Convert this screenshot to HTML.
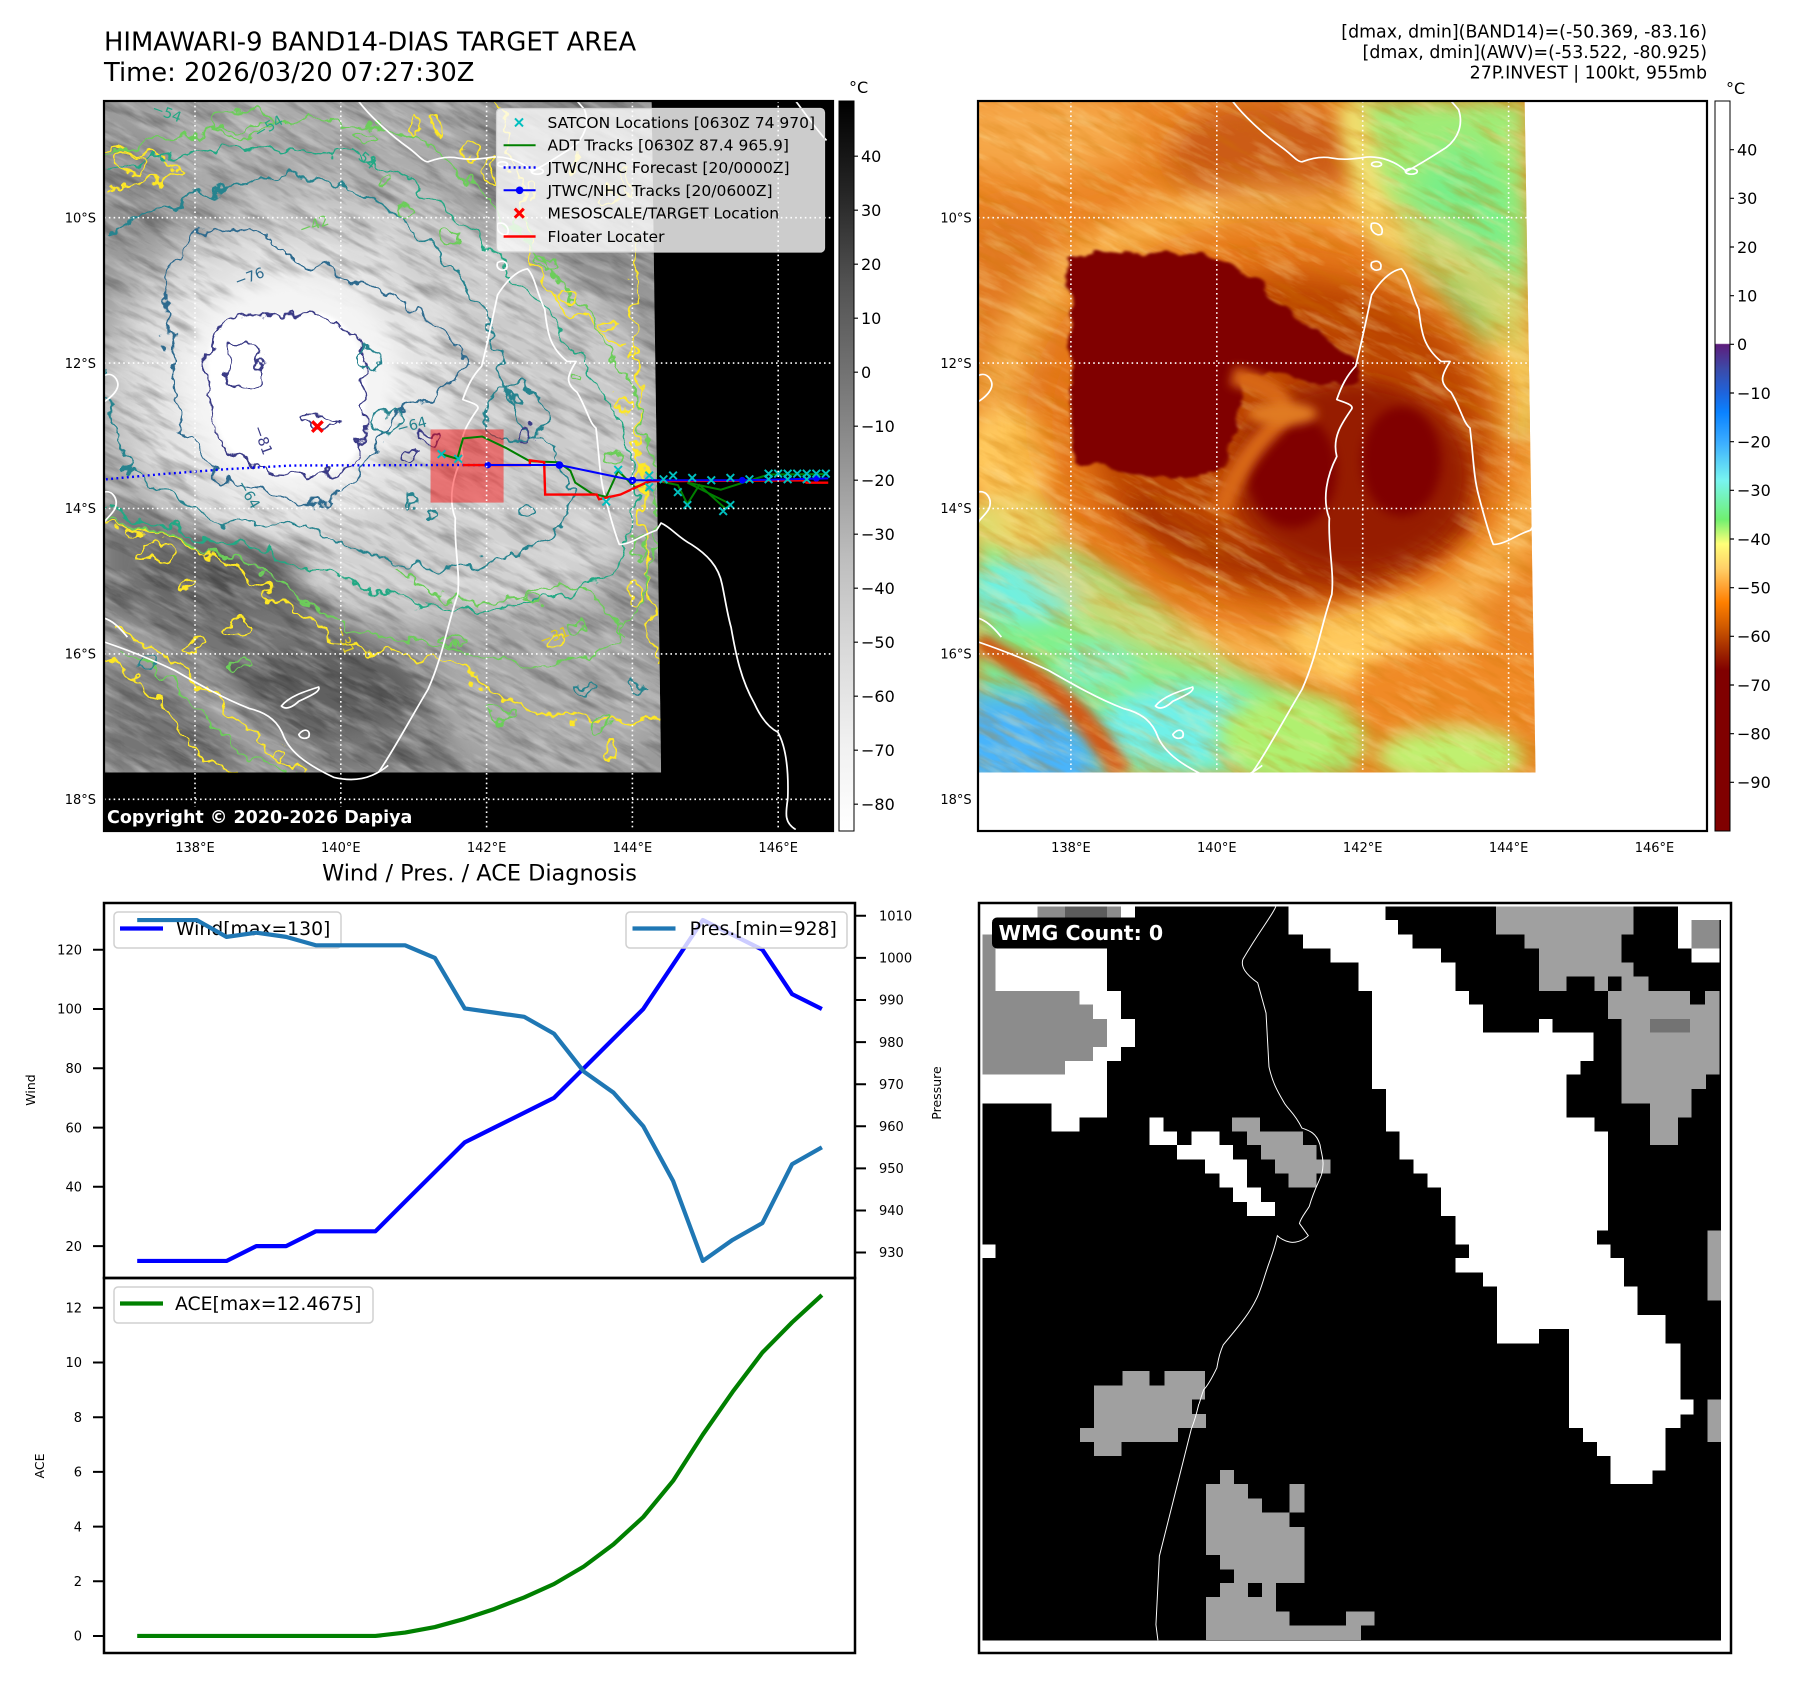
<!DOCTYPE html>
<html><head><meta charset="utf-8">
<style>
html,body{margin:0;padding:0;background:#fff;}
svg{display:block;}
text{font-family:"DejaVu Sans","Liberation Sans",sans-serif;}
</style></head>
<body>
<svg width="1797" height="1690" viewBox="0 0 1797 1690" xmlns="http://www.w3.org/2000/svg">
<defs>
 <linearGradient id="cbGray" x1="0" y1="0" x2="0" y2="1">
  <stop offset="0" stop-color="#000"/><stop offset="0.125" stop-color="#252525"/><stop offset="0.25" stop-color="#525252"/><stop offset="0.375" stop-color="#737373"/><stop offset="0.5" stop-color="#969696"/><stop offset="0.625" stop-color="#bdbdbd"/><stop offset="0.75" stop-color="#d9d9d9"/><stop offset="0.875" stop-color="#f0f0f0"/><stop offset="1" stop-color="#fff"/>
 </linearGradient>
 <linearGradient id="cbCol" x1="0" y1="0" x2="0" y2="1">
  <stop offset="0" stop-color="#fff"/><stop offset="0.332" stop-color="#fff"/><stop offset="0.3335" stop-color="#5e1d7c"/><stop offset="0.3667" stop-color="#3c4aa8"/><stop offset="0.40" stop-color="#1e64dc"/><stop offset="0.4267" stop-color="#0a82ff"/><stop offset="0.4667" stop-color="#3aacff"/><stop offset="0.52" stop-color="#78f5f0"/><stop offset="0.5733" stop-color="#70f070"/><stop offset="0.6067" stop-color="#ffff78"/><stop offset="0.64" stop-color="#ffd068"/><stop offset="0.6667" stop-color="#ffa030"/><stop offset="0.6867" stop-color="#ff8000"/><stop offset="0.72" stop-color="#d05a00"/><stop offset="0.7533" stop-color="#a02800"/><stop offset="0.78" stop-color="#800000"/><stop offset="1" stop-color="#800000"/>
 </linearGradient>
 <filter id="b4" x="-50%" y="-50%" width="200%" height="200%"><feGaussianBlur stdDeviation="4"/></filter>
 <filter id="b10" x="-50%" y="-50%" width="200%" height="200%"><feGaussianBlur stdDeviation="10"/></filter>
 <filter id="b20" x="-50%" y="-50%" width="200%" height="200%"><feGaussianBlur stdDeviation="20"/></filter>
 <filter id="b30" x="-50%" y="-50%" width="200%" height="200%"><feGaussianBlur stdDeviation="30"/></filter>
 <filter id="b40" x="-50%" y="-50%" width="200%" height="200%"><feGaussianBlur stdDeviation="40"/></filter>
 <filter id="wig" x="-5%" y="-5%" width="110%" height="110%"><feTurbulence type="fractalNoise" baseFrequency="0.022" numOctaves="3" seed="5" result="t"/><feDisplacementMap in="SourceGraphic" in2="t" scale="60" xChannelSelector="R" yChannelSelector="G"/></filter>
 <filter id="wigc" x="-20%" y="-20%" width="140%" height="140%"><feTurbulence type="fractalNoise" baseFrequency="0.02" numOctaves="3" seed="9" result="t"/><feDisplacementMap in="SourceGraphic" in2="t" scale="38" xChannelSelector="R" yChannelSelector="G" result="d"/><feGaussianBlur in="d" stdDeviation="3"/></filter>
 <filter id="gtexD" x="0" y="0" width="1" height="1"><feTurbulence type="fractalNoise" baseFrequency="0.01 0.05" numOctaves="4" seed="7"/><feColorMatrix type="matrix" values="0 0 0 0 0  0 0 0 0 0  0 0 0 0 0  2.4 0 0 0 -1.12"/></filter>
 <filter id="gtexL" x="0" y="0" width="1" height="1"><feTurbulence type="fractalNoise" baseFrequency="0.011 0.055" numOctaves="4" seed="11"/><feColorMatrix type="matrix" values="0 0 0 0 1  0 0 0 0 1  0 0 0 0 1  0 2.4 0 0 -1.1"/></filter>
 <filter id="ctexD" x="0" y="0" width="1" height="1"><feTurbulence type="fractalNoise" baseFrequency="0.009 0.045" numOctaves="4" seed="3"/><feColorMatrix type="matrix" values="0 0 0 0 0.6  0 0 0 0 0.18  0 0 0 0 0  3 0 0 0 -1.4"/></filter>
 <filter id="ctexL" x="0" y="0" width="1" height="1"><feTurbulence type="fractalNoise" baseFrequency="0.01 0.05" numOctaves="4" seed="19"/><feColorMatrix type="matrix" values="0 0 0 0 1  0 0 0 0 0.82  0 0 0 0 0.4  0 3 0 0 -1.42"/></filter>
 <clipPath id="gclip"><polygon points="8,12 1155,12 1175,1425 8,1425"/></clipPath>
 <clipPath id="cclip"><polygon points="8,12 1108,12 1130,1425 8,1425"/></clipPath>
 <clipPath id="tlclip"><rect x="104" y="101" width="729" height="730"/></clipPath>
 <clipPath id="trclip"><rect x="978" y="101" width="729" height="730"/></clipPath>
 <clipPath id="c1clip"><rect x="104" y="903" width="751" height="375"/></clipPath>
 <clipPath id="c2clip"><rect x="104" y="1278" width="751" height="375"/></clipPath>
 <g id="coast" fill="none" stroke="#fff" stroke-width="3.5" stroke-linejoin="round">
  <path d="M520,12 C540,40 580,80 620,110 C640,125 650,140 660,140 C680,132 700,128 720,132 C740,136 760,135 790,130 C820,128 850,140 870,160 C890,150 920,130 950,110 C975,90 985,60 975,30 L960,12"/>
  <ellipse cx="810" cy="145" rx="10" ry="5"/><ellipse cx="880" cy="160" rx="12" ry="6"/>
  <path d="M800,270 C815,265 825,280 820,292 C810,298 795,285 800,270 Z"/>
  <path d="M800,352 C812,345 822,352 818,365 C808,372 796,365 800,352 Z"/>
  <path d="M560,1425 C590,1380 620,1320 660,1250 C690,1180 700,1110 720,1050 C725,1000 712,950 715,890 C700,850 710,800 730,760 C720,720 740,690 760,660 C765,650 740,645 730,640 C740,610 750,590 768,570 C780,520 790,470 800,420 C815,395 835,370 860,365 C875,380 880,420 895,450 C900,500 905,530 940,560 L958,560 C940,590 935,605 960,625 C980,660 985,690 998,700 C1005,760 1005,800 1015,840 C1025,880 1035,920 1045,945 C1070,945 1090,925 1120,915 L1129,900 C1150,910 1163,930 1190,945 C1220,965 1245,990 1252,1030 C1258,1060 1262,1090 1270,1120 C1280,1180 1290,1230 1317,1280 C1330,1310 1345,1330 1364,1340 C1380,1370 1386,1420 1384,1480 C1380,1510 1376,1530 1400,1545"/>
  <path d="M8,1150 C50,1165 100,1185 150,1210 C200,1240 250,1270 300,1290 C340,1300 360,1320 370,1350 C385,1385 420,1410 470,1435 C510,1445 545,1440 580,1410"/>
  <path d="M365,1285 C380,1265 410,1255 440,1245 C445,1255 420,1265 400,1275 C390,1285 375,1295 365,1285 Z"/>
  <path d="M400,1345 C410,1330 425,1335 420,1350 C412,1356 402,1352 400,1345 Z"/>
  <path d="M8,590 C25,580 40,600 35,615 C30,630 15,640 8,645"/>
  <path d="M8,835 C25,830 38,850 30,870 C22,885 12,890 8,900"/>
  <path d="M8,1100 C25,1105 40,1120 55,1140"/>
  <path d="M1400,12 C1420,40 1440,70 1462,95"/>
 </g>
</defs>

<!-- Titles -->
<text x="104" y="50.7" font-size="25.8">HIMAWARI-9 BAND14-DIAS TARGET AREA</text>
<text x="104" y="81" font-size="25.8">Time: 2026/03/20 07:27:30Z</text>
<text x="1707" y="37.3" font-size="17.4" text-anchor="end">[dmax, dmin](BAND14)=(-50.369, -83.16)</text>
<text x="1707" y="58" font-size="17.4" text-anchor="end">[dmax, dmin](AWV)=(-53.522, -80.925)</text>
<text x="1707" y="78.7" font-size="17.4" text-anchor="end">27P.INVEST | 100kt, 955mb</text>

<!-- ===== TOP-LEFT GRAY MAP ===== -->
<svg x="104" y="101" width="729" height="730" viewBox="8 12 1527 1536" preserveAspectRatio="none">
 <rect x="0" y="0" width="1600" height="1600" fill="#000"/>
 <g clip-path="url(#gclip)">
  <rect x="0" y="0" width="1600" height="1600" fill="#999999"/>
  <ellipse cx="420" cy="110" rx="420" ry="130" fill="#acacac" filter="url(#b30)"/>
  <ellipse cx="60" cy="170" rx="90" ry="110" fill="#8e8e8e" filter="url(#b30)"/>
  <ellipse cx="1000" cy="170" rx="220" ry="260" fill="#878787" filter="url(#b40)"/>
  <ellipse cx="520" cy="620" rx="520" ry="420" fill="#d0d0d0" filter="url(#b40)"/>
  <ellipse cx="920" cy="720" rx="250" ry="330" fill="#cbcbcb" filter="url(#b40)"/>
  <ellipse cx="720" cy="960" rx="360" ry="150" fill="#d2d2d2" filter="url(#b40)"/>
  <ellipse cx="410" cy="610" rx="330" ry="300" fill="#e4e4e4" filter="url(#b30)"/>
  <path d="M8,870 C150,880 300,950 420,1040 C520,1120 640,1190 720,1300 L740,1425 L8,1425 Z" fill="#747474" filter="url(#b20)"/>
  <ellipse cx="260" cy="1010" rx="170" ry="70" fill="#646464" filter="url(#b20)"/>
  <ellipse cx="480" cy="1250" rx="180" ry="90" fill="#606060" filter="url(#b20)"/>
  <path d="M8,1130 C100,1170 200,1230 280,1310 C330,1360 380,1400 430,1430" stroke="#a2a2a2" stroke-width="80" fill="none" filter="url(#b20)"/>
  <ellipse cx="950" cy="1260" rx="240" ry="170" fill="#ababab" filter="url(#b30)"/>
  <rect x="-600" y="-600" width="2600" height="2600" filter="url(#gtexD)" opacity="0.3" transform="rotate(28 600 700)"/>
  <rect x="-600" y="-600" width="2600" height="2600" filter="url(#gtexL)" opacity="0.3" transform="rotate(28 600 700)"/>
  <ellipse cx="400" cy="610" rx="230" ry="230" fill="#f4f4f4" filter="url(#b20)"/>
  <path d="M238,505 C255,470 300,452 335,468 C370,452 425,468 462,458 C505,468 535,505 548,545 C562,605 556,680 546,732 C528,785 478,802 418,800 C356,806 300,772 268,742 C238,702 224,640 226,580 C226,548 230,522 238,505 Z" fill="#fff" filter="url(#b4)"/>
  <!-- contours -->
  <g fill="none" stroke-width="4.2" filter="url(#wig)">
   <path stroke="#fde725" d="M8,900 C120,910 250,960 360,1050 C440,1120 500,1160 580,1170 C680,1170 760,1210 840,1260 C920,1310 1040,1330 1170,1310"/>
   <path stroke="#fde725" d="M1120,300 C1100,450 1140,600 1130,750 C1140,900 1150,1050 1160,1200"/>
   <path stroke="#fde725" d="M20,1110 C100,1150 180,1210 250,1280 C320,1350 380,1400 440,1425 M8,1180 C80,1220 140,1290 190,1360 C220,1400 260,1420 300,1425"/>
   <path stroke="#fde725" d="M840,12 C850,100 880,200 900,330 C930,420 1000,480 1100,520"/>
   <path stroke="#fde725" d="M8,110 C60,100 120,120 160,160 C120,190 60,180 8,200"/>
   <path stroke="#6ccd5a" d="M8,120 C200,80 400,40 560,60 C700,80 800,200 900,320 C1000,420 1100,560 1140,700 C1170,850 1170,1000 1120,1100 C1050,1200 920,1220 800,1180 C690,1150 600,1150 520,1120 C430,1080 360,1000 240,960 C150,930 70,900 8,890"/>
   <path stroke="#6ccd5a" d="M40,1160 C120,1200 200,1280 260,1350 C300,1390 350,1410 400,1420"/>
   <path stroke="#6ccd5a" d="M620,1000 C700,1060 800,1080 900,1040 C1000,1000 1060,1060 1100,1150"/>
   <path stroke="#22a884" d="M8,170 C150,120 330,90 500,120 C650,150 760,260 860,380 C960,480 1060,600 1110,740 C1150,880 1120,990 1000,1040 C860,1090 720,1090 600,1050 C480,1010 380,960 260,940 C160,925 80,890 8,860"/>
   <path stroke="#25838e" d="M12,300 C120,230 250,190 380,170 C500,160 610,230 690,310 C760,390 820,470 840,560 C850,640 900,700 960,770 C1010,840 980,920 880,960 C780,1000 660,1010 570,970 C500,940 440,890 340,900 C240,905 140,850 70,790 C20,740 12,650 12,560"/>
   <path stroke="#2e6b8e" d="M138,420 C140,300 240,255 335,300 C420,355 540,385 640,440 C700,475 760,520 770,565 C760,610 700,640 640,660 C590,690 575,760 540,810 C500,860 440,870 380,850 C300,840 240,800 200,740 C160,670 138,540 138,420 Z"/>
   <path stroke="#3b3b86" d="M238,505 C255,470 300,452 335,468 C370,452 425,468 462,458 C505,468 535,505 548,545 C562,605 556,680 546,732 C528,785 478,802 418,800 C356,806 300,772 268,742 C238,702 224,640 226,580 C226,548 230,522 238,505 Z"/>
   <g stroke="#3b3b86"><ellipse cx="462" cy="690" rx="35" ry="14"/><ellipse cx="690" cy="718" rx="18" ry="14"/><ellipse cx="648" cy="750" rx="22" ry="16"/><ellipse cx="895" cy="712" rx="14" ry="18"/><ellipse cx="300" cy="570" rx="40" ry="50"/></g>
   <g stroke="#25838e"><ellipse cx="600" cy="690" rx="40" ry="20"/><ellipse cx="650" cy="850" rx="14" ry="10"/><ellipse cx="700" cy="880" rx="10" ry="8"/><ellipse cx="900" cy="880" rx="12" ry="10"/><ellipse cx="1020" cy="1250" rx="16" ry="10"/><ellipse cx="1120" cy="1250" rx="12" ry="10"/><ellipse cx="100" cy="1200" rx="14" ry="20"/><ellipse cx="870" cy="670" rx="60" ry="60"/><ellipse cx="560" cy="560" rx="30" ry="22"/></g>
   <g stroke="#fde725"><ellipse cx="700" cy="60" rx="12" ry="25"/><ellipse cx="660" cy="70" rx="8" ry="20"/><ellipse cx="770" cy="120" rx="10" ry="18"/><ellipse cx="820" cy="160" rx="14" ry="30"/><ellipse cx="900" cy="200" rx="12" ry="20"/><ellipse cx="1000" cy="150" rx="10" ry="14"/><ellipse cx="1060" cy="220" rx="16" ry="24"/><ellipse cx="1110" cy="180" rx="10" ry="30"/><ellipse cx="980" cy="420" rx="18" ry="12"/><ellipse cx="1060" cy="480" rx="14" ry="10"/><ellipse cx="1120" cy="540" rx="10" ry="20"/><ellipse cx="1100" cy="650" rx="12" ry="16"/><ellipse cx="180" cy="1030" rx="20" ry="10"/><ellipse cx="120" cy="960" rx="30" ry="16"/><ellipse cx="60" cy="920" rx="20" ry="10"/><ellipse cx="280" cy="1120" rx="30" ry="14"/><ellipse cx="380" cy="1380" rx="14" ry="10"/><ellipse cx="1070" cy="1380" rx="10" ry="14"/><ellipse cx="960" cy="1150" rx="24" ry="14"/><ellipse cx="1120" cy="1050" rx="14" ry="20"/><ellipse cx="230" cy="970" rx="10" ry="8"/><ellipse cx="200" cy="1160" rx="20" ry="10"/><ellipse cx="60" cy="140" rx="40" ry="25"/></g>
   <g stroke="#6ccd5a"><ellipse cx="560" cy="90" rx="20" ry="12"/><ellipse cx="600" cy="180" rx="14" ry="10"/><ellipse cx="640" cy="240" rx="20" ry="14"/><ellipse cx="720" cy="300" rx="16" ry="12"/><ellipse cx="880" cy="280" rx="14" ry="20"/><ellipse cx="940" cy="360" rx="18" ry="12"/><ellipse cx="1000" cy="600" rx="16" ry="10"/><ellipse cx="1080" cy="760" rx="20" ry="14"/><ellipse cx="900" cy="1060" rx="24" ry="12"/><ellipse cx="1000" cy="1120" rx="18" ry="10"/><ellipse cx="740" cy="1150" rx="20" ry="10"/><ellipse cx="830" cy="1300" rx="24" ry="12"/><ellipse cx="1050" cy="1320" rx="16" ry="12"/><ellipse cx="300" cy="1200" rx="20" ry="10"/><ellipse cx="1130" cy="950" rx="12" ry="18"/><ellipse cx="300" cy="60" rx="60" ry="30"/></g>
  </g>
  <g font-size="30">
   <text x="280" y="395" fill="#2e6b8e" transform="rotate(-20 305 380)">−76</text>
   <text x="320" y="720" fill="#3b3b86" transform="rotate(70 335 710)">−81</text>
   <text x="620" y="705" fill="#25838e" transform="rotate(-15 650 690)">−64</text>
   <text x="285" y="840" fill="#25838e" transform="rotate(60 305 830)">−64</text>
   <text x="110" y="45" fill="#22a884" transform="rotate(20 135 30)">−54</text>
   <text x="320" y="80" fill="#22a884" transform="rotate(-30 345 65)">−54</text>
   <text x="520" y="135" fill="#22a884" transform="rotate(40 545 125)">−54</text>
   <text x="415" y="285" fill="#6ccd5a" transform="rotate(-20 440 270)">−42</text>
   <text x="485" y="1150" fill="#e0cc20" transform="rotate(70 510 1140)">−31</text>
   <text x="920" y="1150" fill="#e0cc20" transform="rotate(-20 945 1140)">−31</text>
  </g>
 </g>
 <use href="#coast" transform="translate(8,0) scale(1.0409,1) translate(-8,0)"/>
 <rect x="692" y="703" width="153" height="154" fill="#ff0000" opacity="0.45"/>
 <path d="M12,808 L130,797 L260,787 L400,779 L700,778 L812,778" fill="none" stroke="#0000ff" stroke-width="5" stroke-dasharray="4,7"/>
 <path d="M715,755 L748,765 L760,722 L800,718 L850,742 L900,770 L960,772 L985,790 L995,815 L1030,838 L1060,845 L1085,790 L1120,825 L1160,810 L1210,820 L1230,860 L1255,820 L1310,870 L1320,860 L1260,830 L1230,815 L1300,830 L1400,798 L1525,797" fill="none" stroke="#008000" stroke-width="4.2"/>
 <path d="M760,778 L900,778 L900,768 L930,772 L932,840 L1040,840 L1045,850 L1090,840 L1150,812 L1470,810 L1480,815 L1525,815" fill="none" stroke="#ff0000" stroke-width="5"/>
 <path d="M812,778 L962,778 L1115,810 L1345,810 L1525,806" fill="none" stroke="#0000ff" stroke-width="4.2"/>
 <g fill="#0000ff"><circle cx="812" cy="778" r="7"/><circle cx="962" cy="778" r="8"/><circle cx="1115" cy="810" r="8"/><circle cx="1345" cy="810" r="7"/><circle cx="1500" cy="806" r="7"/></g>
 <g stroke="#00bfbf" stroke-width="4" fill="none">
  <path d="M707,747 l16,16 m0,-16 l-16,16 M742,757 l16,16 m0,-16 l-16,16 M1052,847 l16,16 m0,-16 l-16,16 M1077,780 l16,16 m0,-16 l-16,16 M1142,792 l16,16 m0,-16 l-16,16 M1142,817 l16,16 m0,-16 l-16,16 M1202,827 l16,16 m0,-16 l-16,16 M1222,854 l16,16 m0,-16 l-16,16 M1297,867 l16,16 m0,-16 l-16,16 M1312,854 l16,16 m0,-16 l-16,16"/>
  <path d="M1172,800 l16,16 m0,-16 l-16,16 M1192,792 l16,16 m0,-16 l-16,16 M1232,797 l16,16 m0,-16 l-16,16 M1272,802 l16,16 m0,-16 l-16,16 M1312,797 l16,16 m0,-16 l-16,16 M1352,800 l16,16 m0,-16 l-16,16 M1392,788 l16,16 m0,-16 l-16,16 M1412,788 l16,16 m0,-16 l-16,16 M1432,788 l16,16 m0,-16 l-16,16 M1452,788 l16,16 m0,-16 l-16,16 M1472,788 l16,16 m0,-16 l-16,16 M1492,788 l16,16 m0,-16 l-16,16 M1512,788 l16,16 m0,-16 l-16,16 M1392,800 l16,16 m0,-16 l-16,16 M1432,800 l16,16 m0,-16 l-16,16 M1472,800 l16,16 m0,-16 l-16,16"/>
 </g>
 <path d="M444,686 l22,22 m0,-22 l-22,22" stroke="#ff0000" stroke-width="7" fill="none"/>
</svg>

<g clip-path="url(#tlclip)" stroke="#fff" stroke-width="1.6" stroke-dasharray="1.6,3.2" fill="none">
 <path d="M195,101V831 M340.8,101V831 M486.6,101V831 M632.4,101V831 M778.2,101V831 M104,217.7H833 M104,363.1H833 M104,508.5H833 M104,653.9H833 M104,799.3H833"/>
</g>
<rect x="104" y="807" width="310" height="24" rx="3" fill="#000"/>
<text x="107" y="823" font-size="17.5" font-weight="bold" fill="#fff">Copyright © 2020-2026 Dapiya</text>

<rect x="496.5" y="108.5" width="328" height="143.5" rx="4" fill="#fff" fill-opacity="0.8" stroke="#d0d0d0" stroke-width="1.2"/>
<path d="M515,118.4 l8,8 m0,-8 l-8,8" stroke="#00bfbf" stroke-width="2" fill="none"/>
<line x1="503.6" y1="145.2" x2="535.6" y2="145.2" stroke="#008000" stroke-width="2"/>
<line x1="503.6" y1="167.5" x2="535.6" y2="167.5" stroke="#0000ff" stroke-width="2.4" stroke-dasharray="2,3"/>
<line x1="503.6" y1="190.3" x2="535.6" y2="190.3" stroke="#0000ff" stroke-width="2"/>
<circle cx="519.6" cy="190.3" r="3.8" fill="#0000ff"/>
<path d="M514.8,208.7 l9,9 m0,-9 l-9,9" stroke="#ff0000" stroke-width="3" fill="none"/>
<line x1="503.6" y1="236.5" x2="535.6" y2="236.5" stroke="#ff0000" stroke-width="2.4"/>
<g font-size="15.5" fill="#000">
 <text x="547.5" y="127.9">SATCON Locations [0630Z 74 970]</text>
 <text x="547.5" y="150.7">ADT Tracks [0630Z 87.4 965.9]</text>
 <text x="547.5" y="173">JTWC/NHC Forecast [20/0000Z]</text>
 <text x="547.5" y="195.8">JTWC/NHC Tracks [20/0600Z]</text>
 <text x="547.5" y="218.7">MESOSCALE/TARGET Location</text>
 <text x="547.5" y="242">Floater Locater</text>
</g>
<rect x="104" y="101" width="729" height="730" fill="none" stroke="#000" stroke-width="2.2"/>

<rect x="839" y="101" width="15" height="730" fill="url(#cbGray)" stroke="#000" stroke-width="1"/>
<text x="849" y="93" font-size="16">°C</text>
<g stroke="#000" stroke-width="1.2">
 <path d="M854,156.2h4 M854,210.2h4 M854,264.2h4 M854,318.2h4 M854,372.2h4 M854,426.2h4 M854,480.2h4 M854,534.2h4 M854,588.2h4 M854,642.2h4 M854,696.2h4 M854,750.2h4 M854,804.2h4"/>
</g>
<g font-size="16" fill="#000">
 <text x="861" y="162">40</text><text x="861" y="216">30</text><text x="861" y="270">20</text><text x="861" y="324">10</text><text x="861" y="378">0</text><text x="861" y="432">−10</text><text x="861" y="486">−20</text><text x="861" y="540">−30</text><text x="861" y="594">−40</text><text x="861" y="648">−50</text><text x="861" y="702">−60</text><text x="861" y="756">−70</text><text x="861" y="810">−80</text>
</g>

<g font-size="13" fill="#000">
 <g text-anchor="end"><text x="96" y="222.4">10°S</text><text x="96" y="367.8">12°S</text><text x="96" y="513.2">14°S</text><text x="96" y="658.6">16°S</text><text x="96" y="804">18°S</text></g>
 <g text-anchor="middle"><text x="195" y="852">138°E</text><text x="340.8" y="852">140°E</text><text x="486.6" y="852">142°E</text><text x="632.4" y="852">144°E</text><text x="778.2" y="852">146°E</text></g>
</g>

<!-- ===== TOP-RIGHT COLOR MAP ===== -->
<rect x="978" y="101" width="729" height="730" fill="#fff"/>
<svg x="978" y="101" width="729" height="730" viewBox="8 12 1467 1536" preserveAspectRatio="none">
 <g clip-path="url(#cclip)">
  <rect x="0" y="0" width="1600" height="1600" fill="#ec8626"/>
  <ellipse cx="120" cy="80" rx="220" ry="90" fill="#f6a848" filter="url(#b30)"/>
  <ellipse cx="580" cy="130" rx="190" ry="120" fill="#cc5c12" filter="url(#b30)"/>
  <path d="M760,12 L1108,12 L1112,720 C1060,690 1000,640 960,560 C920,480 880,420 820,330 C790,250 770,120 760,12 Z" fill="#a0ec76" filter="url(#b20)"/>
  <ellipse cx="980" cy="300" rx="110" ry="200" fill="#78ee88" filter="url(#b30)"/>
  <path d="M760,12 C780,150 800,280 900,430 C940,500 980,580 1060,700" stroke="#f4e070" stroke-width="60" fill="none" filter="url(#b20)"/>
  <ellipse cx="1060" cy="620" rx="70" ry="110" fill="#f8d060" filter="url(#b20)"/>
  <ellipse cx="70" cy="480" rx="130" ry="250" fill="#e27a22" filter="url(#b30)"/>
  <path d="M8,930 C120,900 250,960 360,1060 C460,1150 560,1230 700,1290 L760,1425 L8,1425 Z" fill="#82f08c" filter="url(#b20)"/>
  <ellipse cx="110" cy="1040" rx="120" ry="70" fill="#6ff0e0" filter="url(#b20)"/>
  <ellipse cx="420" cy="1330" rx="170" ry="90" fill="#70f0e8" filter="url(#b20)"/>
  <ellipse cx="250" cy="1200" rx="80" ry="50" fill="#80f0c0" filter="url(#b20)"/>
  <ellipse cx="60" cy="1400" rx="200" ry="150" fill="#48b4fa" filter="url(#b30)"/>
  <path d="M8,1150 C80,1190 150,1240 210,1300 C250,1350 280,1400 300,1425" stroke="#d25a18" stroke-width="45" fill="none" filter="url(#b10)"/>
  <ellipse cx="640" cy="1350" rx="150" ry="90" fill="#b0f070" filter="url(#b20)"/>
  <ellipse cx="830" cy="1150" rx="200" ry="100" fill="#ffd060" filter="url(#b20)"/>
  <ellipse cx="960" cy="1250" rx="200" ry="110" fill="#f08a28" filter="url(#b20)"/>
  <ellipse cx="960" cy="1390" rx="150" ry="60" fill="#c0f070" filter="url(#b20)"/>
  <ellipse cx="80" cy="760" rx="100" ry="100" fill="#ffc858" filter="url(#b20)"/>
  <ellipse cx="80" cy="900" rx="100" ry="60" fill="#d8e070" filter="url(#b20)"/>
  <ellipse cx="600" cy="700" rx="560" ry="470" fill="none" stroke="#ffc860" stroke-width="80" opacity="0.7" filter="url(#b30)"/>
  <ellipse cx="600" cy="690" rx="470" ry="400" fill="#e47418" filter="url(#b40)"/>
  <ellipse cx="640" cy="720" rx="400" ry="340" fill="#bc4404" filter="url(#b30)"/>
  <path d="M330,850 C420,950 560,1000 700,1010 C820,1010 930,960 990,870" stroke="#a83000" stroke-width="60" fill="none" filter="url(#b20)"/>
  <rect x="-600" y="-600" width="2600" height="2600" filter="url(#ctexD)" opacity="0.3" transform="rotate(28 600 700)"/>
  <rect x="-600" y="-600" width="2600" height="2600" filter="url(#ctexL)" opacity="0.3" transform="rotate(28 600 700)"/>
  <ellipse cx="760" cy="800" rx="240" ry="200" fill="#961e00" filter="url(#b20)"/>
  <path d="M195,335 C260,328 330,338 380,330 C430,332 470,334 485,340 C530,365 560,390 580,407 C620,440 650,465 672,481 C710,510 745,535 765,555 C775,575 770,600 750,610 C700,612 620,585 560,578 C530,582 522,605 540,640 C545,680 525,730 500,770 C470,805 420,812 370,805 C310,795 250,780 200,775 C192,640 192,480 195,335 Z" fill="#800000" filter="url(#wigc)"/>
  <ellipse cx="640" cy="790" rx="90" ry="120" fill="#800000" filter="url(#b10)"/>
  <ellipse cx="860" cy="770" rx="80" ry="115" fill="#800000" filter="url(#b10)"/>
  <path d="M520,590 C600,610 650,650 600,700 C560,740 520,800 495,880" stroke="#d86818" stroke-width="40" fill="none" filter="url(#b10)"/>
  <ellipse cx="620" cy="670" rx="70" ry="25" fill="#e07a20" filter="url(#b10)"/>
 </g>
 <use href="#coast"/>
</svg>
<g clip-path="url(#trclip)" stroke="#fff" stroke-width="1.6" stroke-dasharray="1.6,3.2" fill="none">
 <path d="M1070.9,101V831 M1216.8,101V831 M1362.7,101V831 M1508.6,101V831 M1654.5,101V831 M978,217.7H1707 M978,363.1H1707 M978,508.5H1707 M978,653.9H1707 M978,799.3H1707"/>
</g>
<rect x="978" y="101" width="729" height="730" fill="none" stroke="#000" stroke-width="2.2"/>
<g font-size="13" fill="#000">
 <g text-anchor="end"><text x="971.7" y="222.4">10°S</text><text x="971.7" y="367.8">12°S</text><text x="971.7" y="513.2">14°S</text><text x="971.7" y="658.6">16°S</text><text x="971.7" y="804">18°S</text></g>
 <g text-anchor="middle"><text x="1070.9" y="852">138°E</text><text x="1216.8" y="852">140°E</text><text x="1362.7" y="852">142°E</text><text x="1508.6" y="852">144°E</text><text x="1654.5" y="852">146°E</text></g>
</g>
<rect x="1715" y="101" width="15" height="730" fill="url(#cbCol)" stroke="#000" stroke-width="1"/>
<text x="1726" y="94" font-size="16">°C</text>
<g stroke="#000" stroke-width="1.2">
 <path d="M1730,149.7h4 M1730,198.3h4 M1730,247h4 M1730,295.7h4 M1730,344.3h4 M1730,393h4 M1730,441.7h4 M1730,490.3h4 M1730,539h4 M1730,587.7h4 M1730,636.3h4 M1730,685h4 M1730,733.7h4 M1730,782.3h4"/>
</g>
<g font-size="16" fill="#000">
 <text x="1737" y="155.5">40</text><text x="1737" y="204.1">30</text><text x="1737" y="252.8">20</text><text x="1737" y="301.5">10</text><text x="1737" y="350.1">0</text><text x="1737" y="398.8">−10</text><text x="1737" y="447.5">−20</text><text x="1737" y="496.1">−30</text><text x="1737" y="544.8">−40</text><text x="1737" y="593.5">−50</text><text x="1737" y="642.1">−60</text><text x="1737" y="690.8">−70</text><text x="1737" y="739.5">−80</text><text x="1737" y="788.1">−90</text>
</g>

<!-- ===== BOTTOM-LEFT CHART ===== -->
<text x="479.5" y="880.7" font-size="22.4" text-anchor="middle">Wind / Pres. / ACE Diagnosis</text>
<g clip-path="url(#c1clip)" fill="none" stroke-linejoin="round">
 <polyline stroke="#0000ff" stroke-width="4.2" points="137.2,1260.95 167,1260.95 196.7,1260.95 226.5,1260.95 256.3,1246.13 286.1,1246.13 315.8,1231.31 345.6,1231.31 375.4,1231.31 405.1,1201.67 434.9,1172.02 464.7,1142.38 494.4,1127.56 524.2,1112.73 554,1097.91 583.8,1068.27 613.5,1038.63 643.3,1008.98 673.1,964.51 702.8,920.05 732.6,934.87 762.4,949.69 792.1,994.16 821.9,1008.98"/>
</g>
<rect x="114" y="912" width="227" height="36" rx="4" fill="#fff" fill-opacity="0.8" stroke="#d0d0d0" stroke-width="1.5"/>
<line x1="120" y1="928.5" x2="163" y2="928.5" stroke="#0000ff" stroke-width="4.2"/>
<text x="176" y="935" font-size="18.8">Wind[max=130]</text>
<g clip-path="url(#c1clip)" fill="none" stroke-linejoin="round">
 <polyline stroke="#1f77b4" stroke-width="4.2" points="137.2,920.04 167,920.04 196.7,920.04 226.5,936.87 256.3,932.67 286.1,936.87 315.8,945.29 345.6,945.29 375.4,945.29 405.1,945.29 434.9,957.92 464.7,1008.42 494.4,1012.63 524.2,1016.84 554,1033.67 583.8,1071.55 613.5,1092.6 643.3,1126.27 673.1,1180.98 702.8,1260.95 732.6,1239.9 762.4,1223.07 792.1,1164.15 821.9,1147.32"/>
</g>
<rect x="626" y="912" width="221" height="36" rx="4" fill="#fff" fill-opacity="0.8" stroke="#d0d0d0" stroke-width="1.5"/>
<line x1="632.5" y1="928.5" x2="675.5" y2="928.5" stroke="#1f77b4" stroke-width="4.2"/>
<text x="689.6" y="935" font-size="18.8">Pres.[min=928]</text>

<g clip-path="url(#c2clip)" fill="none" stroke-linejoin="round">
 <polyline stroke="#008000" stroke-width="4.2" points="137.2,1635.95 167,1635.95 196.7,1635.95 226.5,1635.95 256.3,1635.95 286.1,1635.95 315.8,1635.95 345.6,1635.95 375.4,1635.95 405.1,1632.6 434.9,1627.07 464.7,1618.79 494.4,1608.95 524.2,1597.4 554,1584 583.8,1566.5 613.5,1544.35 643.3,1517 673.1,1480.84 702.8,1434.63 732.6,1391.91 762.4,1352.53 792.1,1322.38 821.9,1295.04"/>
</g>
<rect x="114" y="1287" width="259" height="36" rx="4" fill="#fff" fill-opacity="0.8" stroke="#d0d0d0" stroke-width="1.5"/>
<line x1="120" y1="1303.5" x2="163" y2="1303.5" stroke="#008000" stroke-width="4.2"/>
<text x="175" y="1310" font-size="18.8">ACE[max=12.4675]</text>

<rect x="104" y="903" width="751" height="375" fill="none" stroke="#000" stroke-width="2.5"/>
<rect x="104" y="1278" width="751" height="375" fill="none" stroke="#000" stroke-width="2.5"/>
<g stroke="#000" stroke-width="2">
 <path d="M93,1246.1H104 M93,1186.8H104 M93,1127.6H104 M93,1068.3H104 M93,1009H104 M93,949.7H104"/>
 <path d="M855,1252.5H866 M855,1210.5H866 M855,1168.4H866 M855,1126.3H866 M855,1084.2H866 M855,1042.1H866 M855,1000H866 M855,957.9H866 M855,915.8H866"/>
 <path d="M93,1636H104 M93,1581.3H104 M93,1526.6H104 M93,1471.9H104 M93,1417.2H104 M93,1362.5H104 M93,1307.8H104"/>
</g>
<g font-size="13" fill="#000">
 <g text-anchor="end">
  <text x="82" y="1250.8">20</text><text x="82" y="1191.5">40</text><text x="82" y="1132.3">60</text><text x="82" y="1073">80</text><text x="82" y="1013.7">100</text><text x="82" y="954.4">120</text>
  <text x="82" y="1640.7">0</text><text x="82" y="1586">2</text><text x="82" y="1531.3">4</text><text x="82" y="1476.6">6</text><text x="82" y="1421.9">8</text><text x="82" y="1367.2">10</text><text x="82" y="1312.5">12</text>
 </g>
 <text x="879" y="1257.2">930</text><text x="879" y="1215.2">940</text><text x="879" y="1173.1">950</text><text x="879" y="1131">960</text><text x="879" y="1088.9">970</text><text x="879" y="1046.8">980</text><text x="879" y="1004.7">990</text><text x="879" y="962.6">1000</text><text x="879" y="920.5">1010</text>
</g>
<g font-size="12.5" fill="#000" text-anchor="middle">
 <text transform="translate(35,1090) rotate(-90)">Wind</text>
 <text transform="translate(941,1093) rotate(-90)">Pressure</text>
 <text transform="translate(44,1466) rotate(-90)">ACE</text>
</g>

<!-- ===== BOTTOM-RIGHT WMG ===== -->
<svg x="979" y="903" width="752" height="750" viewBox="8 15 1530 1533" preserveAspectRatio="none" shape-rendering="crispEdges">
 <rect x="0" y="0" width="1600" height="1600" fill="#fff"/>
 <rect x="15" y="22" width="1503" height="1500" fill="#000"/>
 <rect x="15" y="22" width="112" height="28" fill="#fff"/>
 <rect x="127" y="22" width="56" height="28" fill="#8c8c8c"/>
 <rect x="183" y="22" width="85" height="28" fill="#5c5c5c"/>
 <rect x="268" y="22" width="29" height="28" fill="#8c8c8c"/>
 <rect x="297" y="22" width="28" height="28" fill="#fff"/>
 <rect x="15" y="50" width="20" height="29" fill="#fff"/>
 <polygon fill="#fff" points="42,108 268,108 268,195 297,195 297,252 325,252 325,309 297,309 297,338 268,338 268,453 212,453 212,482 155,482 155,425 15,425 15,366 183,366 183,338 240,338 240,309 268,309 268,252 240,252 240,222 212,222 212,195 42,195"/>
 <polygon fill="#8c8c8c" points="15,79 70,79 70,108 42,108 42,195 212,195 212,222 240,222 240,252 268,252 268,309 240,309 240,338 183,338 183,366 15,366"/>
 <polygon fill="#fff" points="355,453 383,453 383,482 411,482 411,510 355,510"/>
 <polygon fill="#fff" points="440,482 497,482 497,510 525,510 525,539 553,539 553,597 582,597 582,626 610,626 610,655 553,655 553,626 525,626 525,597 497,597 497,568 468,568 468,539 411,539 411,510 440,510"/>
 <polygon fill="#a0a0a0" points="523,453 580,453 580,482 667,482 667,510 695,510 695,539 723,539 723,568 695,568 695,597 638,597 638,568 610,568 610,539 582,539 582,510 553,510 553,482 523,482"/>
 <rect x="15" y="713" width="27" height="28" fill="#fff"/>
 <polygon fill="#fff" points="638,22 835,22 835,50 860,50 860,79 890,79 890,108 948,108 948,137 977,137 977,195 1005,195 1005,222 1033,222 1033,280 1147,280 1147,252 1175,252 1175,280 1258,280 1258,338 1232,338 1232,366 1203,366 1203,453 1260,453 1260,482 1288,482 1288,684 1265,684 1265,713 1293,713 1293,741 1320,741 1320,799 1348,799 1348,857 1405,857 1405,915 1435,915 1435,1030 1462,1030 1462,1060 1435,1060 1435,1088 1405,1088 1405,1175 1378,1175 1378,1203 1293,1203 1293,1145 1265,1145 1265,1117 1237,1117 1237,1088 1208,1088 1208,886 1147,886 1147,915 1062,915 1062,799 1033,799 1033,770 977,770 977,741 1005,741 1005,713 977,713 977,655 948,655 948,597 920,597 920,568 892,568 892,539 864,539 864,482 836,482 836,395 808,395 808,195 780,195 780,137 723,137 723,108 667,108 667,79 638,79"/>
 <polygon fill="#a0a0a0" points="1060,22 1340,22 1340,79 1315,79 1315,137 1340,137 1340,165 1370,165 1370,195 1455,195 1455,222 1485,222 1485,195 1515,195 1515,366 1487,366 1487,395 1458,395 1458,453 1430,453 1430,510 1373,510 1373,425 1315,425 1315,252 1288,252 1288,195 1260,195 1260,165 1203,165 1203,195 1147,195 1147,108 1118,108 1118,79 1060,79"/>
 <rect x="1288" y="165" width="27" height="30" fill="#000"/>
 <rect x="1373" y="252" width="82" height="28" fill="#737373"/>
 <rect x="1430" y="22" width="88" height="28" fill="#fff"/>
 <rect x="1430" y="50" width="28" height="58" fill="#fff"/>
 <rect x="1458" y="50" width="57" height="58" fill="#8c8c8c"/>
 <rect x="1458" y="108" width="57" height="29" fill="#fff"/>
 <rect x="1490" y="684" width="28" height="144" fill="#a0a0a0"/>
 <rect x="1490" y="1030" width="28" height="87" fill="#a0a0a0"/>
 <polygon fill="#a0a0a0" points="300,972 355,972 355,1001 385,1001 385,972 468,972 468,1030 441,1030 441,1059 470,1059 470,1088 413,1088 413,1117 298,1117 298,1145 242,1145 242,1117 214,1117 214,1088 242,1088 242,1001 300,1001"/>
 <polygon fill="#a0a0a0" points="498,1174 527,1174 527,1203 555,1203 555,1232 584,1232 584,1261 640,1261 640,1290 670,1290 670,1405 612,1405 612,1463 640,1463 640,1492 755,1492 755,1463 813,1463 813,1492 785,1492 785,1521 470,1521 470,1434 498,1434 498,1405 527,1405 527,1377 498,1377 498,1348 470,1348 470,1203 498,1203"/>
 <rect x="640" y="1203" width="30" height="58" fill="#a0a0a0"/>
 <rect x="555" y="1405" width="29" height="29" fill="#000"/>
 <path shape-rendering="auto" d="M612,22 C605,40 580,70 545,130 C540,145 550,160 575,178 L592,240 L598,350 C605,380 612,395 630,425 C640,440 650,445 665,475 C680,480 695,485 702,510 C705,530 712,545 705,570 C700,585 690,600 680,635 C672,648 662,660 660,670 L678,695 C665,707 650,710 640,708 C630,706 620,700 615,695 C610,720 600,745 595,760 C585,790 580,810 572,825 C560,850 545,870 505,918 C495,940 494,955 492,965 C480,990 470,1005 465,1010 C458,1030 456,1040 455,1040 C448,1070 440,1090 440,1090 L410,1210 L375,1350 L368,1490 L372,1522" fill="none" stroke="#fff" stroke-width="2"/>
</svg>
<rect x="992" y="917.5" width="172" height="31" rx="5" fill="#000"/>
<text x="998.5" y="940" font-size="20.5" font-weight="bold" fill="#fff">WMG Count: 0</text>
<rect x="979" y="903" width="752" height="750" fill="none" stroke="#000" stroke-width="2.5"/>
</svg>
</body></html>
